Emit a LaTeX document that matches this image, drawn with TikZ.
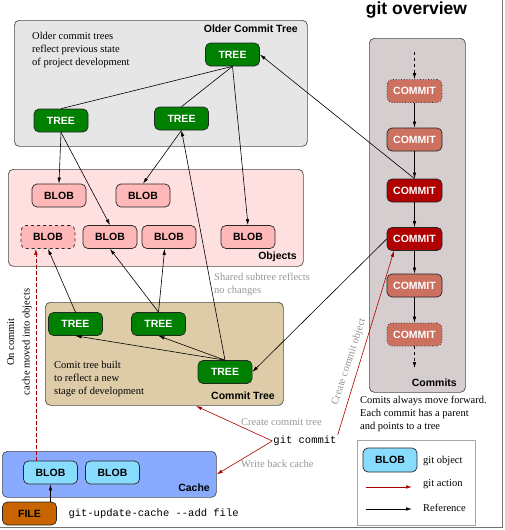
\documentclass[tikz,border=0pt]{standalone}
\usepackage{fontspec}
\setmainfont{Liberation Serif}
\setsansfont{Liberation Sans}
\setmonofont{Liberation Mono}
\usepackage{tikz}
\usetikzlibrary{arrows.meta}

\definecolor{oldgray}{RGB}{230,230,230}
\definecolor{objpink}{RGB}{255,224,224}
\definecolor{blobpink}{RGB}{255,184,184}
\definecolor{commitgray}{RGB}{214,206,206}
\definecolor{commitlight}{RGB}{204,112,96}
\definecolor{commitdark}{RGB}{176,0,0}
\definecolor{treegreen}{RGB}{0,128,0}
\definecolor{cttan}{RGB}{222,204,168}
\definecolor{cacheblue}{RGB}{136,170,255}
\definecolor{blobblue}{RGB}{136,221,255}
\definecolor{filebrown}{RGB}{200,100,0}
\definecolor{actionred}{RGB}{170,0,0}
\definecolor{notegray}{RGB}{150,150,150}

\newcommand\objfont{\sffamily\bfseries\fontsize{10.5}{12}\selectfont}
\newcommand\notefont{\rmfamily\fontsize{10.5}{13}\selectfont}
\newcommand\cmdfont{\ttfamily\fontsize{10.5}{12}\selectfont}

\tikzset{
    >={Latex[length=6pt,width=3.5pt]},
    area/.style={draw=black!70, line width=0.7pt, rounded corners=5pt, anchor=north west, inner sep=0pt},
    areatitle/.style={font=\objfont, anchor=east, inner sep=0pt},
    obj/.style={draw=black!85, line width=0.7pt, rounded corners=5pt, minimum width=54pt, minimum height=23pt, inner sep=0pt, font=\objfont},
    treenode/.style={obj, fill=treegreen, text=white},
    blobnode/.style={obj, fill=blobpink},
    cacheblob/.style={obj, fill=blobblue},
    oldcommit/.style={obj, minimum width=55pt, fill=commitlight, text=white},
    headcommit/.style={obj, minimum width=55pt, fill=commitdark, text=white},
    note/.style={font=\notefont, align=left, inner sep=0pt},
    graynote/.style={note, text=notegray},
    ref/.style={->, line width=0.6pt},
    action/.style={->, line width=0.6pt, actionred},
}

\begin{document}
\begin{tikzpicture}[x=1pt,y=-1pt]
\useasboundingbox (0,0) rectangle (504,530);
\draw[black!55, line width=1.5pt] (502.5,0) -- (502.5,527.5) -- (0,527.5);

% areas
\node[area, fill=oldgray, minimum width=293pt, minimum height=126pt] (oldbox) at (14,20) {};
\node[area, fill=objpink, minimum width=295pt, minimum height=97pt] (objbox) at (8,169) {};
\node[area, fill=commitgray, minimum width=96pt, minimum height=354pt] (commitbox) at (369,38) {};
\node[area, fill=cttan, minimum width=238pt, minimum height=103pt] (ctbox) at (45,302) {};
\node[area, fill=cacheblue, minimum width=214pt, minimum height=46pt] (cachebox) at (2,451) {};
\node[area, draw=black!35, rounded corners=0pt, fill=white, minimum width=118pt, minimum height=85pt] (legend) at (357,440) {};
\node[areatitle] (oldtitle) at (298,29) {Older Commit Tree};
\node[areatitle] (objtitle) at (297,257) {Objects};
\node[areatitle] (committitle) at (457,383) {Commits};
\node[areatitle] (cttitle) at (275,396) {Commit Tree};
\node[areatitle] (cachetitle) at (210,488) {Cache};
\node[font=\sffamily\bfseries\fontsize{17.5}{20}\selectfont] (title) at (416.5,10) {git overview};

% objects
\node[treenode] (otree) at (232.5,54.5) {TREE};
\node[treenode] (otleft) at (61,120.5) {TREE};
\node[treenode] (otmid) at (181.5,118.5) {TREE};
\node[blobnode] (blob1) at (59,195.5) {BLOB};
\node[blobnode] (blob2) at (143,195.5) {BLOB};
\node[blobnode, dashed] (blob3) at (48,237) {BLOB};
\node[blobnode] (blob4) at (110,237) {BLOB};
\node[blobnode] (blob5) at (169,237) {BLOB};
\node[blobnode] (blob6) at (248,237) {BLOB};
\node[oldcommit, dotted] (c1) at (414.5,91) {COMMIT};
\node[oldcommit] (c2) at (414.5,139.5) {COMMIT};
\node[headcommit] (c3) at (414.5,190.5) {COMMIT};
\node[headcommit] (c4) at (414.5,239) {COMMIT};
\node[oldcommit] (c5) at (414.5,285.5) {COMMIT};
\node[oldcommit, dotted] (c6) at (414.5,334.5) {COMMIT};
\node[treenode] (ct1) at (75.5,324) {TREE};
\node[treenode] (ct2) at (158.5,324) {TREE};
\node[treenode] (ct3) at (225,372) {TREE};
\node[cacheblob] (cb1) at (50.5,472.5) {BLOB};
\node[cacheblob] (cb2) at (112.5,472.5) {BLOB};
\node[obj, fill=filebrown] (file) at (29.5,513.5) {FILE};
\node[cacheblob, minimum height=24pt] (lgblob) at (390,460) {BLOB};

% texts
\node[note, anchor=north west] (oldnote) at (32,32) {Older commit trees\\reflect previous state\\of project development};
\node[note, anchor=north west] (ctnote) at (54,361) {Comit tree built\\to reflect a new\\stage of development};
\node[note, anchor=north west] (commitnote) at (360,396) {Comits always move forward.\\Each commit has a parent\\and points to a tree};
\node[graynote, anchor=north west] (sharednote) at (214,273) {Shared subtree reflects\\no changes};
\node[graynote, anchor=west] (treeaction) at (241,422) {Create commit tree};
\node[graynote, anchor=west] (cacheaction) at (241,464) {Write back cache};
\node[graynote, rotate=72] (commitaction) at (349,362) {Create commit object};
\node[note, rotate=90, align=center, font=\rmfamily\fontsize{10.5}{15.5}\selectfont] (movenote) at (19.5,342) {On commit\\cache moved into objects};
\node[font=\cmdfont, inner sep=1pt] (gitcommit) at (305,441) {git commit};
\node[font=\cmdfont, anchor=west] (updatecmd) at (65,514) {git-update-cache --add file};
\node[note, anchor=west] (lgobj) at (423,461) {git object};
\node[note, anchor=west] (lgaction) at (423,484) {git action};
\node[note, anchor=west] (lgref) at (423,508) {Reference};

% older commit tree
\draw[line width=0.6pt] (otree.south) -- (otleft.north);
\draw[line width=0.6pt] (otree.south) -- (otmid.north);
\draw[ref] (otree.south) -- (blob6.north);
\draw[ref] (otleft.south) -- (blob1.north);
\draw[ref] (otleft.south) -- (blob4.north);
\draw[ref] (otmid.south) -- (blob2.north);
% new commit tree
\draw[ref] (ct1.north) -- (blob3.south);
\draw[ref] (ct2.north) -- (blob4.south);
\draw[ref] (ct2.north) -- (blob5.250);
\draw[ref] (ct3.north) -- (ct1.south);
\draw[ref] (ct3.north) -- (ct2.south);
\draw[ref] (ct3.north) -- (otmid.south);
% commits
\coordinate (ctop) at (414.5,52);
\coordinate (cbottom) at (414.5,368);
\draw[ref, dashed] (ctop) -- (c1);
\foreach \a/\b in {c1/c2,c2/c3,c3/c4,c4/c5,c5/c6}
    \draw[ref] (\a) -- (\b);
\draw[ref, dashed] (c6) -- (cbottom);
\draw[ref] (c3.north) -- (otree.east);
\draw[ref] (c4.west) -- (ct3.east);
% git actions
\coordinate (cttarget) at (196,406);
\draw[action] (gitcommit.west) -- (cttarget);
\draw[action] (gitcommit.west) -- (cachebox.east);
\draw[action] (gitcommit.north east) -- (c4.-150);
\draw[action, dash pattern=on 4pt off 2pt] (cb1.141) -- (cb1.141 |- blob3.south);
\draw[ref] (file.north -| cb1.south) -- (cb1.south);
% legend
\coordinate (lgred1) at (366,487);
\coordinate (lgred2) at (412,487);
\coordinate (lgref1) at (366,509);
\coordinate (lgref2) at (412,509);
\draw[action] (lgred1) -- (lgred2);
\draw[ref] (lgref1) -- (lgref2);
\end{tikzpicture}
\end{document}
